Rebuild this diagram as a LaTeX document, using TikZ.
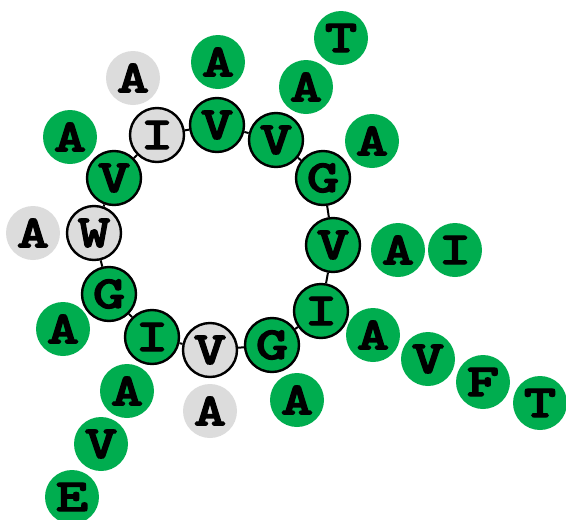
\documentclass[tikz,border=0pt]{standalone}
\usepackage{fontspec}
\newfontfamily\resfont{lmmonolt10-bold.otf}[FakeBold=2.6, FakeStretch=1.35]
\definecolor{resgreen}{RGB}{0,173,79}
\definecolor{resgray}{RGB}{220,220,220}
\tikzset{
  res/.style={circle, minimum size=54pt, inner sep=0pt,
    font=\fontsize{46}{46}\selectfont\resfont},
  ring/.style={res, draw=black, line width=2.4pt},
  side/.style={res, minimum size=54pt},
  gr/.style={fill=resgreen},
  gy/.style={fill=resgray},
  bond/.style={line width=2pt}
}
\begin{document}
\begin{tikzpicture}[x=1pt, y=-1pt]
\useasboundingbox (0,0) rectangle (566,520);
% ring residues
\node[ring,gy] (r1)  at (157,135) {I};
\node[ring,gr] (r2)  at (217,125) {V};
\node[ring,gr] (r3)  at (276,140) {V};
\node[ring,gr] (r4)  at (323,178) {G};
\node[ring,gr] (r5)  at (333,245) {V};
\node[ring,gr] (r6)  at (321,311) {I};
\node[ring,gr] (r7)  at (272,345) {G};
\node[ring,gy] (r8)  at (210,350) {V};
\node[ring,gr] (r9)  at (152,337) {I};
\node[ring,gr] (r10) at (109,294) {G};
\node[ring,gy] (r11) at (94,233)  {W};
\node[ring,gr] (r12) at (114,178) {V};
\foreach \a/\b in {r1/r2,r2/r3,r3/r4,r4/r5,r5/r6,r6/r7,r7/r8,r8/r9,r9/r10,r10/r11,r11/r12,r12/r1}
  \draw[bond] (\a) -- (\b);
% side residues
\node[side,gy] (s1)  at (133,78)  {A};
\node[side,gr] (s2)  at (218,62)  {A};
\node[side,gr] (s3)  at (70,137)  {A};
\node[side,gy] (s4)  at (33,233)  {A};
\node[side,gr] (s5)  at (341,38)  {T};
\node[side,gr] (s6)  at (306,87)  {A};
\node[side,gr] (s7)  at (372,141) {A};
\node[side,gr] (s8)  at (398,250) {A};
\node[side,gr] (s9)  at (455,250) {I};
\node[side,gr] (s10) at (373,335) {A};
\node[side,gr] (s11) at (428,359) {V};
\node[side,gr] (s12) at (483,382) {F};
\node[side,gr] (s13) at (540,403) {T};
\node[side,gr] (s14) at (297,400) {A};
\node[side,gy] (s15) at (210,411) {A};
\node[side,gr] (s16) at (127,391) {A};
\node[side,gr] (s17) at (101,444) {V};
\node[side,gr] (s18) at (72,497)  {E};
\node[side,gr] (s19) at (63,329)  {A};
\end{tikzpicture}
\end{document}
